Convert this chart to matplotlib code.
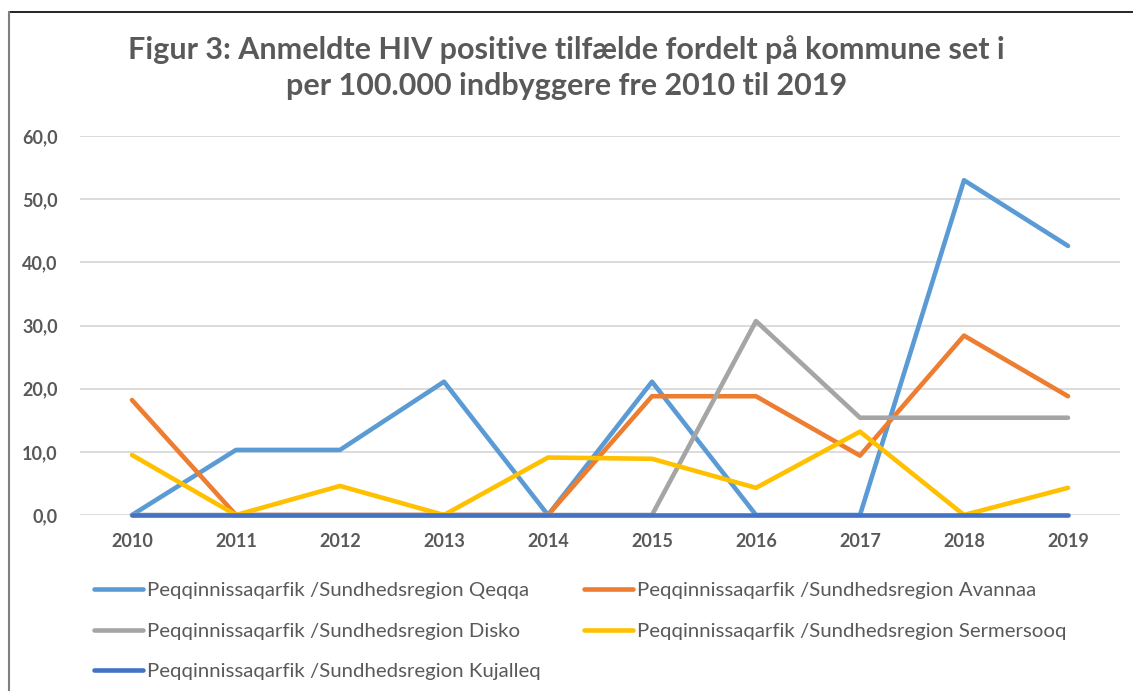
import matplotlib.pyplot as plt
from matplotlib.lines import Line2D
from matplotlib.ticker import FuncFormatter

# data (per 100.000 inhabitants)
years = ['2010', '2011', '2012', '2013', '2014', '2015', '2016', '2017', '2018', '2019']
qeqqa = [0.0, 10.3, 10.3, 21.1, 0.0, 21.1, 0.0, 0.0, 53.0, 42.6]
avannaa = [18.2, 0.0, 0.0, 0.0, 0.0, 18.8, 18.8, 9.4, 28.4, 18.8]
disko = [0.0, 0.0, 0.0, 0.0, 0.0, 0.0, 30.7, 15.4, 15.4, 15.4]
sermersooq = [9.5, 0.0, 4.6, 0.0, 9.1, 8.9, 4.3, 13.2, 0.0, 4.3]
kujalleq = [0.0, 0.0, 0.0, 0.0, 0.0, 0.0, 0.0, 0.0, 0.0, 0.0]

prefix = 'Peqqinnissaqarfik /Sundhedsregion '
series = [
    ('Qeqqa', qeqqa, '#5B9BD5'),
    ('Avannaa', avannaa, '#ED7D31'),
    ('Disko', disko, '#A5A5A5'),
    ('Sermersooq', sermersooq, '#FFC000'),
    ('Kujalleq', kujalleq, '#4472C4'),
]

TXT = '#595959'
plt.rcParams['font.family'] = ['Lato', 'DejaVu Sans']

fig = plt.figure(figsize=(11.33, 6.91), dpi=100)
ax = fig.add_axes([80 / 1133, 1 - 515 / 691, 1040 / 1133, 379 / 691])

x = list(range(len(years)))
handles = {}
for name, vals, col in series:
    ln, = ax.plot(x, vals, color=col, lw=3.3, solid_capstyle='round',
                  solid_joinstyle='round', label=prefix + name, zorder=3,
                  clip_on=False)
    handles[name] = ln

ax.set_xlim(-0.5, len(years) - 0.5)
ax.set_ylim(0, 60)
ax.set_yticks(range(0, 61, 10))
ax.yaxis.set_major_formatter(FuncFormatter(lambda v, p: f'{v:.1f}'.replace('.', ',')))
ax.set_xticks(x)
ax.set_xticklabels(years)
ax.grid(axis='y', color='#D9D9D9', lw=1.3, zorder=0)
for s in ax.spines.values():
    s.set_visible(False)
ax.tick_params(length=0, labelcolor=TXT, labelsize=13)
ax.tick_params(axis='y', pad=16)
ax.tick_params(axis='x', pad=13)
for lbl in ax.get_xticklabels() + ax.get_yticklabels():
    lbl.set_fontweight('bold')

fig.text(0.5, 1 - 68 / 691,
         'Figur 3: Anmeldte HIV positive tilfælde fordelt på kommune set i\n'
         'per 100.000 indbyggere fre 2010 til 2019',
         ha='center', va='center', fontsize=22, fontweight='bold', color=TXT,
         linespacing=1.35)

order = ['Qeqqa', 'Disko', 'Kujalleq', 'Avannaa', 'Sermersooq']
leg = fig.legend([handles[n] for n in order], [prefix + n for n in order],
                 loc='upper left', bbox_to_anchor=(94 / 1133, 1 - 582 / 691),
                 ncol=2, frameon=False, fontsize=14.7, borderpad=0, borderaxespad=0,
                 handlelength=2.4, handletextpad=0.2, columnspacing=2.1,
                 labelspacing=1.13, labelcolor=TXT)

# chart frame: top and left edges only
fig.add_artist(Line2D([9 / 1133, 1], [1 - 12 / 691, 1 - 12 / 691],
                      transform=fig.transFigure, color='#000000', lw=1.2))
fig.add_artist(Line2D([9 / 1133, 9 / 1133], [0, 1 - 12 / 691],
                      transform=fig.transFigure, color='#7F7F7F', lw=1.5))

fig.savefig('out.png', dpi=100)
